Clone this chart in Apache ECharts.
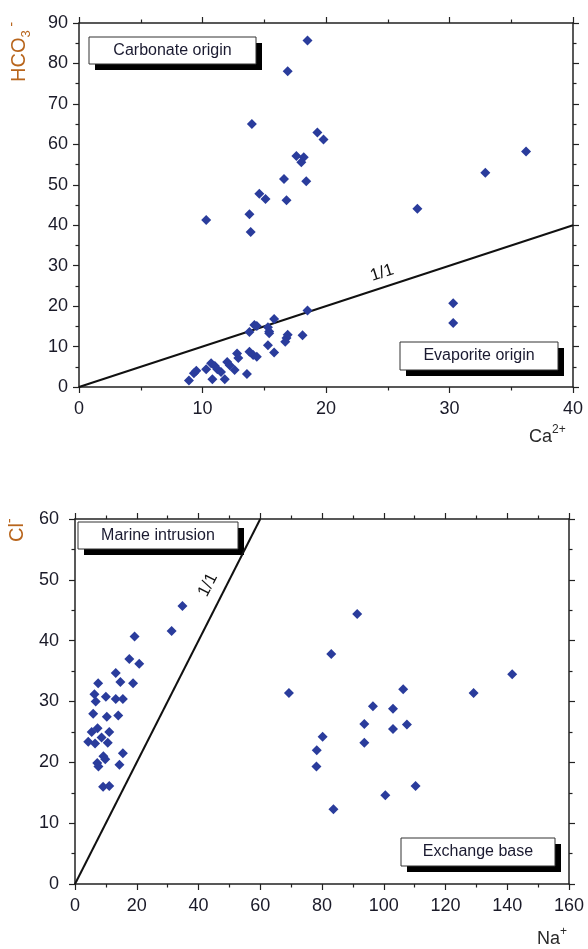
<!DOCTYPE html>
<html><head><meta charset="utf-8">
<script src="https://cdn.jsdelivr.net/npm/echarts/dist/echarts.min.js"></script>
<style>html,body{margin:0;padding:0;background:#fff;}#c{width:588px;height:949px;}</style>
</head><body><div id="c"></div>
<script>
// ---- Top chart: HCO3- vs Ca2+ ----
const caValues = [14.0, 19.3, 19.8, 17.6, 18.2, 18.0, 16.6, 18.4, 14.6, 15.1, 16.8, 10.3, 13.8, 13.9, 16.9, 18.5, 36.2, 32.9, 27.4, 30.3, 30.3,
  8.9, 9.3, 9.5, 10.3, 10.7, 11.0, 11.2, 11.5, 10.8, 11.8, 12.0, 12.2, 12.6, 13.6, 12.8, 12.9, 13.8, 14.1, 14.4, 15.3, 15.8,
  13.8, 14.2, 14.4, 15.3, 15.4, 15.4, 15.8, 16.8, 16.9, 16.7, 18.1, 18.5];
const hco3Values = [65.0, 62.9, 61.2, 57.1, 56.8, 55.6, 51.4, 50.9, 47.8, 46.5, 46.2, 41.3, 42.7, 38.3, 78.1, 85.7, 58.2, 53.0, 44.1, 20.7, 15.8,
  1.6, 3.4, 4.0, 4.4, 5.9, 5.2, 4.4, 3.7, 1.9, 1.9, 6.2, 5.4, 4.2, 3.2, 8.3, 7.2, 8.7, 7.9, 7.5, 10.3, 8.5,
  13.6, 15.3, 15.1, 14.8, 13.7, 13.3, 16.8, 12.1, 12.9, 11.2, 12.8, 18.9];
const topRatioX = [0, 40];
const topRatioY = [0, 40];
const topXTicks = [0, 40, 10];   // min, max, interval
const topYTicks = [0, 90, 10];

// ---- Bottom chart: Cl- vs Na+ ----
const naValues = [34.8, 31.3, 19.3, 17.6, 20.8, 13.2, 14.7, 18.8, 7.5, 6.3, 6.7, 10.0, 13.2, 15.5, 5.9, 10.3, 14.0,
  5.4, 7.3, 4.3, 6.5, 8.6, 11.1, 10.6, 9.2, 9.8, 15.5, 7.2, 7.6, 14.4, 9.1, 11.1,
  69.3, 78.3, 78.2, 80.2, 83.0, 83.7, 91.4, 93.7, 93.7, 96.5, 100.5, 103.0, 103.0, 106.3, 107.5, 110.3, 129.1, 141.6];
const clValues = [45.7, 41.6, 40.7, 37.0, 36.2, 34.7, 33.2, 33.0, 33.0, 31.2, 30.0, 30.8, 30.4, 30.4, 28.0, 27.5, 27.7,
  25.0, 25.6, 23.4, 23.1, 24.1, 25.0, 23.2, 21.0, 20.5, 21.5, 19.9, 19.3, 19.6, 16.0, 16.1,
  31.4, 22.0, 19.3, 24.2, 37.8, 12.3, 44.4, 26.3, 23.2, 29.2, 14.6, 28.8, 25.5, 32.0, 26.2, 16.1, 31.4, 34.5];
const botRatioX = [0, 60];
const botRatioY = [0, 60];
const botXTicks = [0, 160, 20];
const botYTicks = [0, 60, 10];

const pairs = (xs, ys) => xs.map((x, i) => [x, ys[i]]);

const AX = '#222';
const LBL = '#1a1a28';
const NAMEC = '#b8651c';
const PT = '#2a3c9c';
const FONT = '"Liberation Sans", Arial, sans-serif';

function ax(grid, t, pos, labels, margin) {
  return {
    type: 'value', gridIndex: grid, position: pos, min: t[0], max: t[1], interval: t[2],
    axisLine: { show: true, onZero: false, lineStyle: { color: AX, width: 1.5 } },
    axisTick: { show: true, inside: false, length: 6, lineStyle: { color: AX, width: 1.2 } },
    minorTick: { show: true, splitNumber: 2, length: 3.5, lineStyle: { color: AX, width: 1.2 } },
    splitLine: { show: false }, minorSplitLine: { show: false },
    axisLabel: { show: labels, color: LBL, fontSize: 18, fontFamily: FONT, margin: margin }
  };
}

const option = {
  animation: false,
  backgroundColor: '#fff',
  grid: [
    { left: 79, top: 23, width: 494, height: 364, containLabel: false, outerBoundsMode: 'none' },
    { left: 75, top: 519, width: 494, height: 365, containLabel: false, outerBoundsMode: 'none' }
  ],
  xAxis: [
    ax(0, topXTicks, 'bottom', true, 13),
    ax(0, topXTicks, 'top', false, 8),
    ax(1, botXTicks, 'bottom', true, 13),
    ax(1, botXTicks, 'top', false, 8)
  ],
  yAxis: [
    ax(0, topYTicks, 'left', true, 11),
    ax(0, topYTicks, 'right', false, 8),
    ax(1, botYTicks, 'left', true, 16),
    ax(1, botYTicks, 'right', false, 8)
  ],
  series: [
    { type: 'line', xAxisIndex: 0, yAxisIndex: 0, data: pairs(topRatioX, topRatioY), symbol: 'none',
      lineStyle: { color: '#111', width: 2 }, silent: true, z: 1 },
    { type: 'scatter', xAxisIndex: 0, yAxisIndex: 0, data: pairs(caValues, hco3Values), symbol: 'diamond',
      symbolSize: 10, itemStyle: { color: PT, opacity: 1 }, z: 3 },
    { type: 'line', xAxisIndex: 2, yAxisIndex: 2, data: pairs(botRatioX, botRatioY), symbol: 'none',
      lineStyle: { color: '#111', width: 2 }, silent: true, z: 1 },
    { type: 'scatter', xAxisIndex: 2, yAxisIndex: 2, data: pairs(naValues, clValues), symbol: 'diamond',
      symbolSize: 10, itemStyle: { color: PT, opacity: 1 }, z: 3 }
  ]
};

function box(x, y, w, h, label) {
  return {
    type: 'group', x: x, y: y, z: 100,
    children: [
      { type: 'rect', shape: { x: 6, y: 6, width: w, height: h }, style: { fill: '#000' } },
      { type: 'rect', shape: { x: 0, y: 0, width: w, height: h }, style: { fill: '#fff', stroke: '#333', lineWidth: 1 } },
      { type: 'text', x: w / 2, y: h / 2, style: { text: label, fill: '#1a1a30', fontSize: 16, fontFamily: FONT, align: 'center', verticalAlign: 'middle' } }
    ]
  };
}

const richName = (c) => ({
  m: { fontSize: 20, fontFamily: FONT, fill: c, color: c, lineHeight: 28, verticalAlign: 'middle' },
  sub: { fontSize: 13, fontFamily: FONT, fill: c, color: c, lineHeight: 28, verticalAlign: 'bottom' },
  sup: { fontSize: 14, fontFamily: FONT, fill: c, color: c, lineHeight: 28, verticalAlign: 'top' },
  ms: { fontSize: 18, fontFamily: FONT, fill: c, color: c, lineHeight: 26, verticalAlign: 'middle' },
  ss: { fontSize: 12, fontFamily: FONT, fill: c, color: c, lineHeight: 26, verticalAlign: 'top' }
});

option.graphic = [
  box(89, 37, 167, 27, 'Carbonate origin'),
  box(400, 342, 158, 28, 'Evaporite origin'),
  box(78, 522, 160, 27, 'Marine intrusion'),
  box(401, 838, 154, 28, 'Exchange base'),
  { type: 'text', x: 382, y: 273, rotation: 18 * Math.PI / 180, z: 50,
    style: { text: '1/1', fill: '#111', fontSize: 17, fontFamily: FONT, align: 'center', verticalAlign: 'middle' } },
  { type: 'text', x: 208, y: 585, rotation: 63 * Math.PI / 180, z: 50,
    style: { text: '1/1', fill: '#111', fontSize: 17, fontFamily: FONT, align: 'center', verticalAlign: 'middle' } },
  { type: 'text', x: 33, y: 82, rotation: Math.PI / 2, z: 50,
    style: { text: '{m|HCO}{sub|3}{sup| -}', fill: NAMEC, rich: richName(NAMEC), align: 'left', verticalAlign: 'bottom' } },
  { type: 'text', x: 31, y: 542, rotation: Math.PI / 2, z: 50,
    style: { text: '{m|Cl}{sup|-}', fill: NAMEC, rich: richName(NAMEC), align: 'left', verticalAlign: 'bottom' } },
  { type: 'text', x: 529, y: 450, z: 50,
    style: { text: '{ms|Ca}{ss|2+}', fill: '#2a2a2a', rich: richName('#2a2a2a'), align: 'left', verticalAlign: 'bottom' } },
  { type: 'text', x: 537, y: 952, z: 50,
    style: { text: '{ms|Na}{ss|+}', fill: '#2a2a2a', rich: richName('#2a2a2a'), align: 'left', verticalAlign: 'bottom' } }
];

const chart = echarts.init(document.getElementById('c'), null, { renderer: 'canvas' });
chart.setOption(option);
</script>
</body></html>
